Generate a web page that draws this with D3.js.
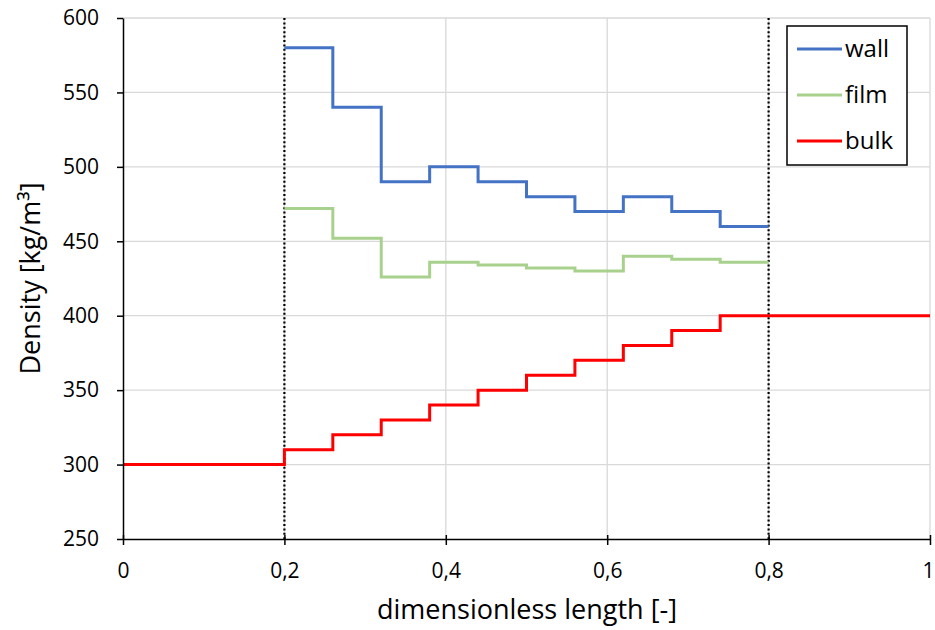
<!DOCTYPE html>
<html>
<head>
<meta charset="utf-8">
<script src="https://cdn.jsdelivr.net/npm/d3@7"></script>
<style>
  body { margin: 0; background: #fff; }
  svg { display: block; font-family: "Open Sans", sans-serif; }
</style>
</head>
<body>
<svg id="chart" width="935" height="630"></svg>
<script>
// Segment boundaries along the dimensionless length
const edges = [0.2, 0.26, 0.32, 0.38, 0.44, 0.5, 0.56, 0.62, 0.68, 0.74, 0.8];
// Density per segment [kg/m³]
const wall = [580, 540, 490, 500, 490, 480, 470, 480, 470, 460];
const film = [472, 452, 426, 436, 434, 432, 430, 440, 438, 436];
// Bulk profile extends over the full length
const bulkEdges = [0, 0.2, 0.26, 0.32, 0.38, 0.44, 0.5, 0.56, 0.62, 0.68, 0.74, 1];
const bulk = [300, 310, 320, 330, 340, 350, 360, 370, 380, 390, 400];
const xTicks = [0, 0.2, 0.4, 0.6, 0.8, 1];
const yTicks = [250, 300, 350, 400, 450, 500, 550, 600];
const markers = [0.2, 0.8];
const seriesNames = ["wall", "film", "bulk"];
const seriesColors = ["#4472C4", "#A9D18E", "#FF0000"];

const svg = d3.select("#chart");
const m = { left: 123, right: 930, top: 18, bottom: 539 };
const x = d3.scaleLinear().domain([0, 1]).range([m.left, m.right]);
const y = d3.scaleLinear().domain([250, 600]).range([m.bottom, m.top]);

// Gridlines
svg.append("g").selectAll("line").data(yTicks.slice(1)).join("line")
  .attr("x1", m.left).attr("x2", m.right)
  .attr("y1", d => y(d)).attr("y2", d => y(d))
  .attr("stroke", "#d9d9d9").attr("stroke-width", 1.3);
svg.append("g").selectAll("line").data(xTicks.slice(1)).join("line")
  .attr("x1", d => x(d)).attr("x2", d => x(d))
  .attr("y1", m.top).attr("y2", m.bottom)
  .attr("stroke", "#d9d9d9").attr("stroke-width", 1.3);

// Dotted boundary markers
svg.append("g").selectAll("line").data(markers).join("line")
  .attr("x1", d => x(d)).attr("x2", d => x(d))
  .attr("y1", m.top).attr("y2", m.bottom)
  .attr("stroke", "#000").attr("stroke-width", 2.2)
  .attr("stroke-dasharray", "2,2.4");

// Step curves
function stepPoints(bounds, vals) {
  const pts = vals.map((v, i) => [bounds[i], v]);
  pts.push([bounds[bounds.length - 1], vals[vals.length - 1]]);
  return pts;
}
const line = d3.line().x(d => x(d[0])).y(d => y(d[1])).curve(d3.curveStepAfter);
const series = [stepPoints(edges, wall), stepPoints(edges, film), stepPoints(bulkEdges, bulk)];
series.forEach((pts, i) => {
  svg.append("path").datum(pts)
    .attr("d", line).attr("fill", "none")
    .attr("stroke", seriesColors[i]).attr("stroke-width", 3);
});

// Axes
const xAxis = svg.append("g").attr("transform", `translate(0,${m.bottom})`)
  .call(d3.axisBottom(x).tickValues(xTicks).tickSize(6).tickSizeOuter(0)
    .tickFormat(d => d3.format("~g")(d).replace(".", ",")));
const yAxis = svg.append("g").attr("transform", `translate(${m.left},0)`)
  .call(d3.axisLeft(y).tickValues(yTicks).tickSize(6).tickSizeOuter(0));
[xAxis, yAxis].forEach(g => {
  g.select(".domain").attr("stroke", "#000").attr("stroke-width", 1.5);
  g.selectAll(".tick line").attr("stroke", "#000").attr("stroke-width", 1.5);
  g.selectAll(".tick text").attr("fill", "#000").attr("font-size", 21)
    .attr("font-family", "'Open Sans', sans-serif");
});
xAxis.selectAll(".tick line").attr("y1", -4);
xAxis.selectAll(".tick text").attr("y", 39).attr("dy", null);
// keep the last label inside the right edge
xAxis.selectAll(".tick text").filter(d => d === 1)
  .attr("text-anchor", "end").attr("x", 4);
yAxis.selectAll(".tick text").attr("x", -24);

// Axis titles
svg.append("text").attr("x", 527).attr("y", 619)
  .attr("text-anchor", "middle").attr("font-size", 27).attr("fill", "#000")
  .text("dimensionless length [-]");
svg.append("text").attr("transform", `translate(40,${(m.top + m.bottom) / 2}) rotate(-90)`)
  .attr("text-anchor", "middle").attr("font-size", 27).attr("fill", "#000")
  .text("Density [kg/m³]");

// Legend
const lg = svg.append("g");
lg.append("rect").attr("x", 787).attr("y", 26).attr("width", 120).attr("height", 139)
  .attr("fill", "#fff").attr("stroke", "#000").attr("stroke-width", 1.5);
seriesNames.forEach((name, i) => {
  const cy = 49 + i * 46;
  lg.append("line").attr("x1", 797).attr("x2", 842).attr("y1", cy).attr("y2", cy)
    .attr("stroke", seriesColors[i]).attr("stroke-width", 3);
  lg.append("text").attr("x", 845).attr("y", cy).attr("dy", "0.35em")
    .attr("font-size", 24).attr("fill", "#000").text(name);
});
</script>
</body>
</html>
